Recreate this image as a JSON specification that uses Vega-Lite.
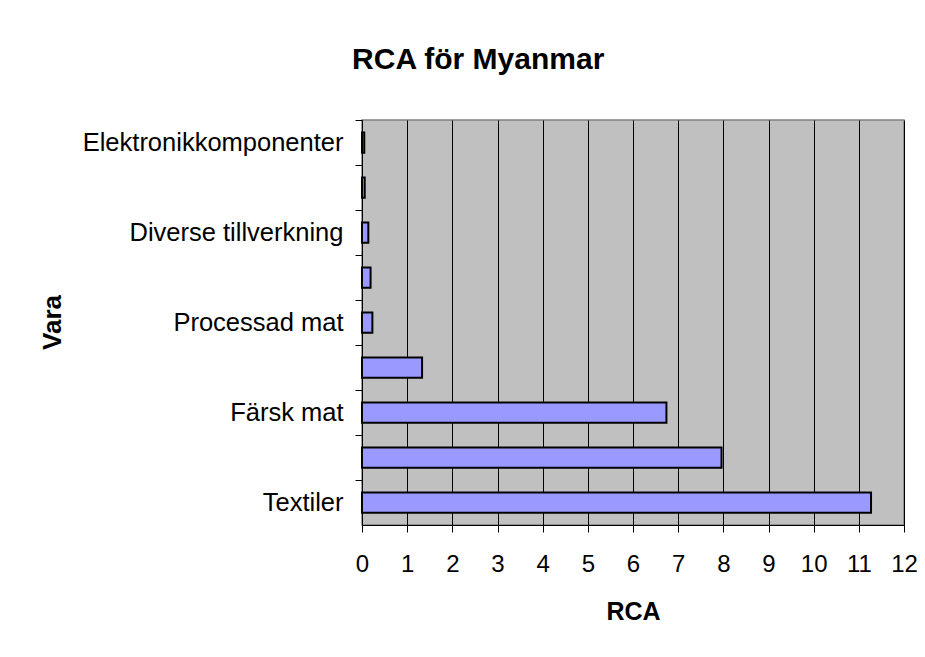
{
  "$schema": "https://vega.github.io/schema/vega-lite/v6.json",
  "autosize": "none",
  "width": 542,
  "height": 405,
  "padding": {"left": 362, "top": 120, "right": 21, "bottom": 132},
  "background": "white",
  "title": {
    "text": "RCA för Myanmar",
    "font": "Liberation Sans",
    "fontSize": 30,
    "fontWeight": "bold",
    "color": "black",
    "anchor": "middle",
    "frame": "bounds",
    "offset": 45
  },
  "data": {
    "values": [
      {"vara": "Elektronikkomponenter", "rca": 0.05, "order": 1},
      {"vara": "Vara 2", "rca": 0.06, "order": 2},
      {"vara": "Diverse tillverkning", "rca": 0.14, "order": 3},
      {"vara": "Vara 4", "rca": 0.19, "order": 4},
      {"vara": "Processad mat", "rca": 0.23, "order": 5},
      {"vara": "Vara 6", "rca": 1.33, "order": 6},
      {"vara": "Färsk mat", "rca": 6.74, "order": 7},
      {"vara": "Vara 8", "rca": 7.96, "order": 8},
      {"vara": "Textiler", "rca": 11.27, "order": 9}
    ]
  },
  "mark": {"type": "bar", "color": "#9999FF", "stroke": "black", "strokeWidth": 2},
  "encoding": {
    "x": {
      "field": "rca",
      "type": "quantitative",
      "scale": {"domain": [0, 12], "nice": false, "zero": true},
      "axis": {
        "title": "RCA",
        "values": [0, 1, 2, 3, 4, 5, 6, 7, 8, 9, 10, 11, 12],
        "grid": true,
        "gridColor": "black",
        "gridOpacity": 1,
        "gridWidth": 1,
        "domainColor": "black",
        "domainWidth": 1,
        "tickColor": "black",
        "tickSize": 7,
        "labelFont": "Liberation Sans",
        "labelFontSize": 24,
        "labelColor": "black",
        "labelPadding": 20,
        "labelFlush": false,
        "titleFont": "Liberation Sans",
        "titleFontSize": 25,
        "titleFontWeight": "bold",
        "titleColor": "black",
        "titlePadding": 23
      }
    },
    "y": {
      "field": "vara",
      "type": "nominal",
      "sort": {"field": "order", "order": "ascending"},
      "scale": {"paddingInner": 0.55, "paddingOuter": 0.275},
      "axis": {
        "title": "Vara",
        "titleFont": "Liberation Sans",
        "titleFontSize": 26,
        "titleFontWeight": "bold",
        "titleColor": "black",
        "titleX": -310,
        "titleY": 202,
        "titleAngle": -90,
        "titleAlign": "center",
        "titleBaseline": "middle",
        "labelExpr": "indexof(['Elektronikkomponenter','Diverse tillverkning','Processad mat','Färsk mat','Textiler'], datum.value) >= 0 ? datum.value : ''",
        "labelFont": "Liberation Sans",
        "labelFontSize": 25.5,
        "labelColor": "black",
        "labelLimit": 0,
        "labelPadding": 12,
        "bandPosition": -0.611,
        "labelOffset": 0,
        "ticks": true,
        "tickSize": 7,
        "tickColor": "black",
        "domainColor": "black",
        "domainWidth": 1
      }
    }
  },
  "config": {
    "view": {"fill": "#C0C0C0", "stroke": "#808080", "strokeWidth": 1.5}
  }
}
